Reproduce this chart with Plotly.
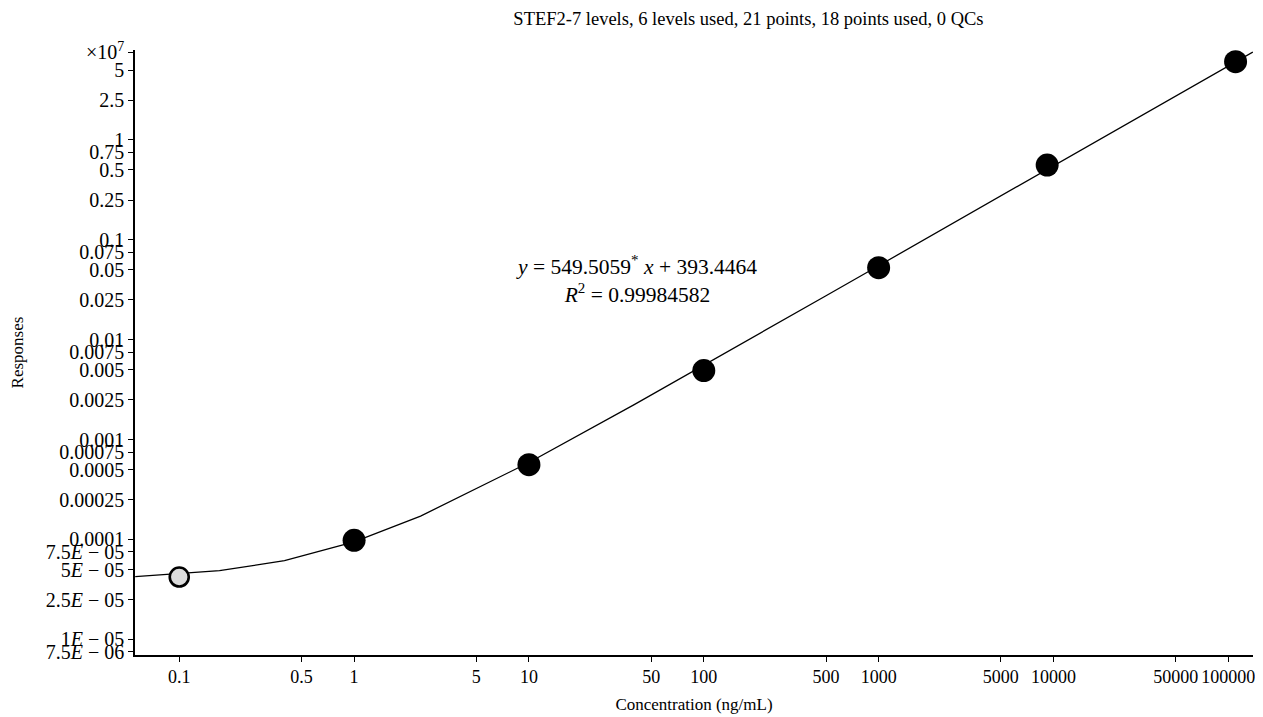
import plotly.graph_objects as go

# Calibration data (responses in raw units)
conc_used = [1, 10, 100, 1000, 9200, 110000]
resp_used = [980, 5600, 49000, 525000, 5600000, 60700000]
conc_excl = [0.1]
resp_excl = [420]

# Fit shown on chart: y = slope*x + intercept
slope = 549.5059
intercept = 393.4464
fit_x = [0.056, 0.17, 0.4, 1, 2.4, 10, 40, 100, 300, 500, 1000, 2200, 11000, 20000, 138000]

SCALE = 1e7

y_tick_vals = [7.5, 5, 2.5, 1, 0.75, 0.5, 0.25, 0.1, 0.075, 0.05, 0.025, 0.01, 0.0075, 0.005,
               0.0025, 0.001, 0.00075, 0.0005, 0.00025, 0.0001, 7.5e-5, 5e-5, 2.5e-5, 1e-5, 7.5e-6]
y_tick_text = ["×10<sup>7</sup>", "5", "2.5", "1", "0.75", "0.5", "0.25", "0.1", "0.075", "0.05",
               "0.025", "0.01", "0.0075", "0.005", "0.0025", "0.001", "0.00075", "0.0005",
               "0.00025", "0.0001", "7.5<i>E</i> − 05", "5<i>E</i> − 05", "2.5<i>E</i> − 05",
               "1<i>E</i> − 05", "7.5<i>E</i> − 06"]
x_tick_vals = [0.1, 0.5, 1, 5, 10, 50, 100, 500, 1000, 5000, 10000, 50000, 100000]
x_tick_text = ["0.1", "0.5", "1", "5", "10", "50", "100", "500", "1000", "5000", "10000", "50000", "100000"]

font_family = "Liberation Serif, DejaVu Serif, serif"

fig = go.Figure()
fig.add_trace(go.Scatter(
    x=fit_x, y=[(slope * v + intercept) / SCALE for v in fit_x],
    mode="lines", line=dict(color="black", width=1.3), showlegend=False, hoverinfo="skip"))
fig.add_trace(go.Scatter(
    x=conc_excl, y=[v / SCALE for v in resp_excl], mode="markers",
    marker=dict(size=19, color="#dcdcdc", line=dict(color="black", width=2.6)),
    showlegend=False))
fig.add_trace(go.Scatter(
    x=conc_used, y=[v / SCALE for v in resp_used], mode="markers",
    marker=dict(size=23, color="black", line=dict(color="black", width=0)),
    showlegend=False))

fig.add_annotation(
    x=0.449, y=0.62, xref="paper", yref="paper", showarrow=False, align="center",
    xanchor="center", yanchor="middle",
    text="<i>y</i> = 549.5059<sup>*</sup> <i>x</i> + 393.4464<br><i>R</i><sup>2</sup> = 0.99984582",
    font=dict(family=font_family, size=21.5, color="black"))

fig.update_layout(
    width=1255, height=709,
    margin=dict(l=127, r=10, t=42, b=62),
    paper_bgcolor="white", plot_bgcolor="white",
    font=dict(family=font_family, size=18, color="black"),
    title=dict(text="STEF2-7 levels, 6 levels used, 21 points, 18 points used, 0 QCs",
               x=0.59, xanchor="center", y=0.985, yanchor="middle",
               font=dict(family=font_family, size=18.5)),
    xaxis=dict(type="log", range=[-1.253, 5.141], tickvals=x_tick_vals, ticktext=x_tick_text,
               ticks="outside", ticklen=5, tickwidth=1.2, tickcolor="black", automargin=False,
               tickangle=0, tickfont=dict(family=font_family, size=18),
               showline=True, linecolor="black", linewidth=1.5, showgrid=False, zeroline=False,
               title=dict(text="Concentration (ng/mL)", standoff=12,
                          font=dict(family=font_family, size=17))),
    yaxis=dict(type="log", range=[-5.157, 0.90], tickvals=y_tick_vals, ticktext=y_tick_text,
               ticks="outside", ticklen=5, tickwidth=1.2, tickcolor="black", automargin=False,
               tickfont=dict(family=font_family, size=20),
               showline=True, linecolor="black", linewidth=1.5, showgrid=False, zeroline=False,
               title=dict(text="Responses", standoff=28,
                          font=dict(family=font_family, size=17))),
)

fig.write_html("out.html")
